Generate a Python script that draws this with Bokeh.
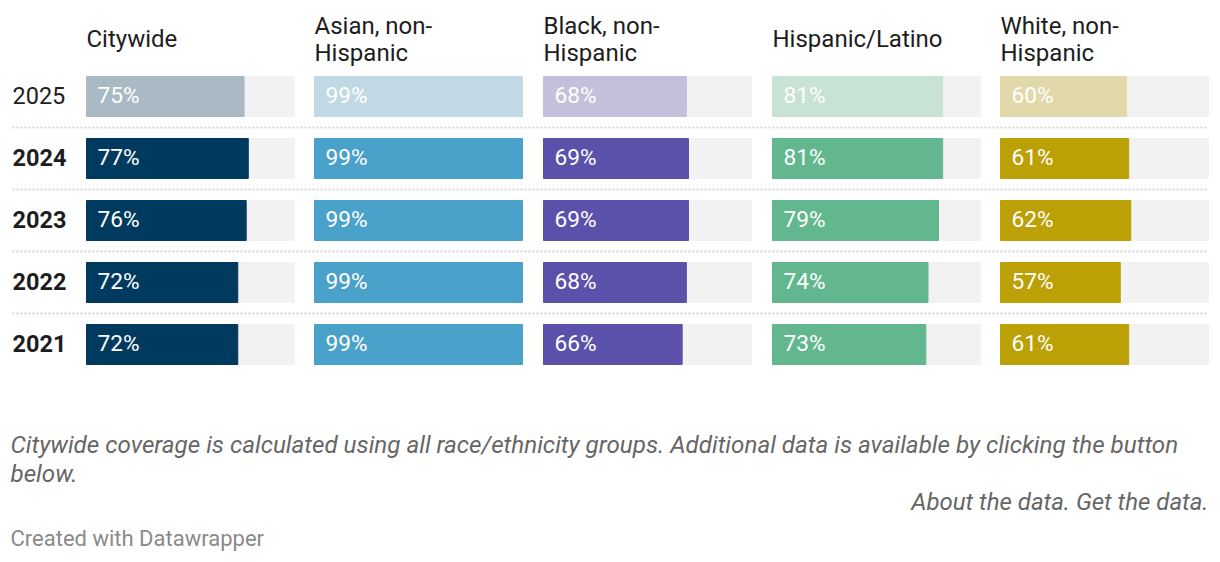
from bokeh.plotting import figure
from bokeh.models import Range1d, Label, ColumnDataSource
from bokeh.core.properties import value
from bokeh.embed import file_html
from bokeh.resources import INLINE

# ---------------- data ----------------
years = ["2025", "2024", "2023", "2022", "2021"]
groups = ["Citywide", "Asian, non-Hispanic", "Black, non-Hispanic", "Hispanic/Latino", "White, non-Hispanic"]
header_lines = [["Citywide"], ["Asian, non-", "Hispanic"], ["Black, non-", "Hispanic"],
                ["Hispanic/Latino"], ["White, non-", "Hispanic"]]
citywide = [75, 77, 76, 72, 72]
asian = [99, 99, 99, 99, 99]
black = [68, 69, 69, 68, 66]
hispanic = [81, 81, 79, 74, 73]
white = [60, 61, 62, 57, 61]
series = [citywide, asian, black, hispanic, white]
dark_colors = ["#003a5e", "#4aa1c9", "#5b51ab", "#62b78e", "#bba006"]
light_colors = ["#a9bac4", "#c1d9e5", "#c4c0dc", "#c8e2d6", "#e1d9aa"]
note_lines = ["Citywide coverage is calculated using all race/ethnicity groups. Additional data is available by clicking the button",
              "below."]
links = "About the data. Get the data."
credit = "Created with Datawrapper"

# ---------------- layout ----------------
W, H = 1220, 562
PANEL_LEFT = [86, 314, 543, 772, 1000]
PANEL_W = 208
DOMAIN_MAX = max(max(s) for s in series)
ROW_TOP_PX = 96
ROW_STEP = 62
BAR_PX = 40
FONT = "Roboto"
TXT = "#1d1d1d"

n = len(years)
row_pos = [n - 1 - i for i in range(n)]  # 2025 at top

p = figure(width=W, height=H, output_backend="svg", toolbar_location=None,
           x_range=Range1d(0, W),
           y_range=Range1d(0 - (H - (ROW_TOP_PX + (n - 1) * ROW_STEP)) / ROW_STEP,
                           (n - 1) + ROW_TOP_PX / ROW_STEP),
           min_border=0, background_fill_color="white", border_fill_color="white")
p.axis.visible = False
p.grid.visible = False
p.outline_line_color = None

k = DOMAIN_MAX / PANEL_W
for i, L in enumerate(PANEL_LEFT):
    p.extra_x_ranges["g%d" % i] = Range1d(-L * k, (W - L) * k)

bar_h = BAR_PX / ROW_STEP

# separators
sep_y = [row_pos[i] - 0.5 for i in range(n - 1)]
p.segment(x0=[12] * len(sep_y), x1=[1208] * len(sep_y), y0=sep_y, y1=sep_y,
          line_color="#d6d6d6", line_width=2, line_dash="2 2")

# year labels
for i, y in enumerate(years):
    p.text(x=[12], y=[row_pos[i]], text=[y], text_font=value(FONT),
           text_font_size="23.5px", text_color=TXT, text_baseline="middle",
           text_align="left", text_font_style="normal" if i == 0 else "bold",
           y_offset=-1)

for g, vals in enumerate(series):
    rng = "g%d" % g
    cols = [light_colors[g] if i == 0 else dark_colors[g] for i in range(n)]
    src = ColumnDataSource(dict(y=row_pos, v=vals, c=cols,
                                t=["%d%%" % v for v in vals],
                                m=[DOMAIN_MAX] * n))
    p.hbar(y="y", left=0, right="m", height=bar_h, color="#f2f2f2", source=src, x_range_name=rng)
    p.hbar(y="y", left=0, right="v", height=bar_h, color="c", source=src, x_range_name=rng)
    p.text(x=0, y="y", text="t", source=src, x_range_name=rng, x_offset=11, y_offset=-1,
           text_font=value(FONT), text_font_size="22.7px", text_color="white",
           text_baseline="middle", text_align="left")
    # headers
    lines = header_lines[g]
    if len(lines) == 1:
        ys = [H - 38.7]
    else:
        ys = [H - 25.3, H - 52.7]
    for ln, yy in zip(lines, ys):
        p.add_layout(Label(x=PANEL_LEFT[g], y=yy, x_units="screen", y_units="screen",
                           text=ln, text_font=FONT, text_font_size="24px",
                           text_color=TXT, text_baseline="alphabetic"))

# footer
for ln, yy in zip(note_lines, [H - 444.5, H - 473.5]):
    p.add_layout(Label(x=10, y=yy, x_units="screen", y_units="screen", text=ln,
                       text_font=FONT, text_font_size="24.2px", text_font_style="italic",
                       text_color="#666666", text_baseline="alphabetic"))
p.add_layout(Label(x=1208, y=H - 501.3, x_units="screen", y_units="screen", text=links,
                   text_font=FONT, text_font_size="24px", text_font_style="italic",
                   text_color="#666666", text_baseline="alphabetic", text_align="right"))
p.add_layout(Label(x=10, y=H - 537.7, x_units="screen", y_units="screen", text=credit,
                   text_font=FONT, text_font_size="22px",
                   text_color="#8a8a8a", text_baseline="alphabetic"))

open("out.html", "w").write(file_html(p, INLINE))
